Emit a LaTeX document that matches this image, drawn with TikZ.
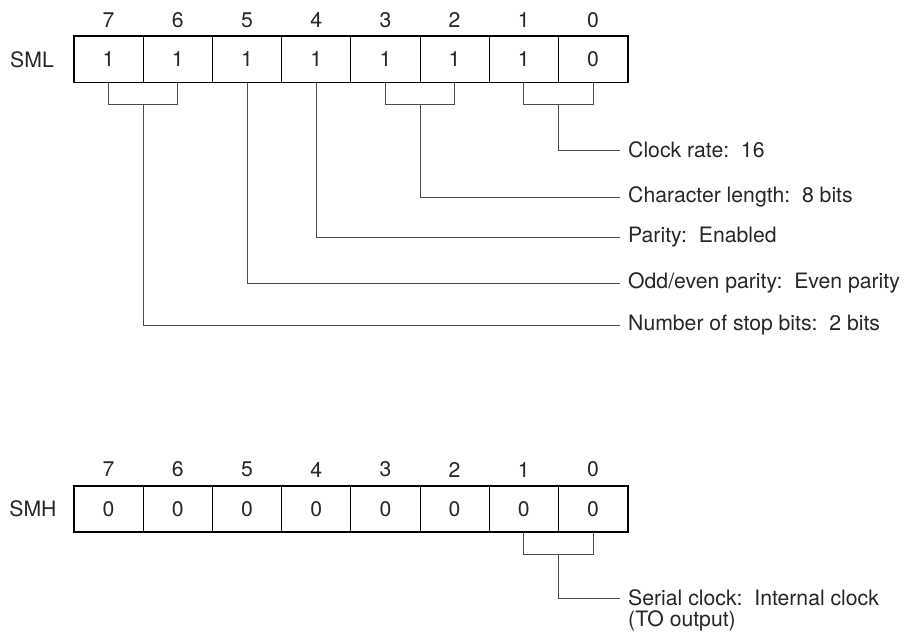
\documentclass[tikz,border=0pt]{standalone}
\usepackage{fontspec}
\setmainfont{TeX Gyre Heros}
\usetikzlibrary{positioning}
\tikzset{
  cell/.style={draw, line width=0.8pt, minimum width=69.2pt, minimum height=45.5pt, inner sep=0pt},
  bitno/.style={inner sep=0pt},
  frame/.style={line width=1.8pt},
  lead/.style={draw=black!70, line width=0.9pt},
  desc/.style={anchor=west, inner xsep=8pt, inner ysep=0pt}
}
\begin{document}
\begin{tikzpicture}[x=1pt,y=-1pt,font=\fontsize{21.2}{24}\selectfont,text=black!85]
\useasboundingbox (0,0) rectangle (911,637);
% the two registers
\foreach \reg/\y/\vals in {sml/59.4/{1,1,1,1,1,1,1,0}, smh/509/{0,0,0,0,0,0,0,0}} {
  \foreach \v [count=\i from 0] in \vals {
    \pgfmathtruncatemacro\bit{7-\i}
    \node[cell] (\reg\bit) at ({74+69.2*(\i+0.5)},\y) {\v};
    \node[bitno] (\reg n\bit) at ({74+69.2*(\i+0.5)},{\y-39.4}) {\bit};
  }
  \draw[frame] (\reg7.north west) rectangle (\reg0.south east);
}
\node (smlname) at (32,59.4) {SML};
\node (smhname) at (33,509) {SMH};

% SML fields
\node[desc] (clk) at (620,150) {Clock rate:\ \ 16};
\node[desc] (chr) at (620,197) {Character length:\ \ 8 bits};
\node[desc] (par) at (620,237) {Parity:\ \ Enabled};
\node[desc] (oe) at (620,283) {Odd/even parity:\ \ Even parity};
\node[desc] (stop) at (620,325) {Number of stop bits:\ \ 2 bits};

\coordinate (b10) at ([yshift=-22pt]sml1.south east);
\coordinate (b32) at ([yshift=-22pt]sml3.south east);
\coordinate (b76) at ([yshift=-22pt]sml7.south east);
\draw[lead] (sml1.south) |- (b10) -| (sml0.south);
\draw[lead] (sml3.south) |- (b32) -| (sml2.south);
\draw[lead] (sml7.south) |- (b76) -| (sml6.south);
\draw[lead] (b10) |- (clk.west);
\draw[lead] (b32) |- (chr.west);
\draw[lead] (sml4.south) |- (par.west);
\draw[lead] (sml5.south) |- (oe.west);
\draw[lead] (b76) |- (stop.west);

% SMH field
\node[desc] (sclk) at (620,598) {Serial clock:\ \ Internal clock};
\node[desc] (sclkb) at (620,621) {(TO output)};
\coordinate (h10) at ([yshift=-22pt]smh1.south east);
\draw[lead] (smh1.south) |- (h10) -| (smh0.south);
\draw[lead] (h10) |- (sclk.west);
\end{tikzpicture}
\end{document}
